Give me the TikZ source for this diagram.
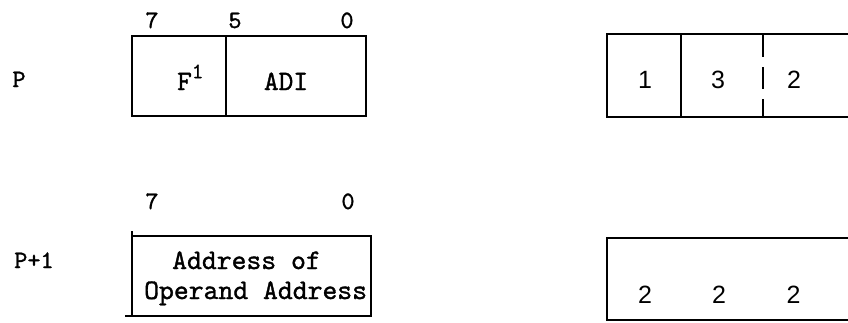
\documentclass[tikz,border=0pt]{standalone}
\usepackage{fontspec}
\newfontfamily\tw{lmmono10-regular}[Extension=.otf, FakeBold=1.2]
\newfontfamily\digitfont{Liberation Sans}
\begin{document}
\begin{tikzpicture}[x=1pt,y=-1pt,
  box/.style={line width=2pt},
  mono/.style={font=\tw\fontsize{25}{30}\selectfont, inner sep=0pt, anchor=base},
  monob/.style={font=\tw\fontsize{28}{30}\selectfont, inner sep=0pt, anchor=base},
  monol/.style={font=\tw\fontsize{28.3}{30}\selectfont, inner sep=0pt, anchor=base west},
  dig/.style={font=\digitfont\fontsize{25}{28}\selectfont, inner sep=0pt, anchor=base}]
\useasboundingbox (0,0) rectangle (848,322);
\clip (0,0) rectangle (848,322);
% left top box
\draw[box] (132,36) rectangle (366,116);
\draw[box] (226,36) -- (226,116);
\node[mono] (l7) at (152,28) {7};
\node[mono] (l5) at (235,28) {5};
\node[mono] (l0) at (347,28) {0};
\node[mono] (p) at (19,87) {P};
\node[monob, anchor=base west] (f1) at (177,90) {F\raisebox{0.42em}{\fontsize{22}{24}\selectfont 1}};
\node[monob] (adi) at (286,90) {ADI};
% left bottom box
\draw[box] (132,236) rectangle (371,316);
\draw[box] (125,316) -- (132,316);
\draw[box] (132,231) -- (132,236);
\node[mono] (m7) at (152,209) {7};
\node[mono] (m0) at (348,209) {0};
\node[mono] (p1) at (34,268) {P+1};
\node[monol] (addr1) at (172,269) {Address of};
\node[monol] (addr2) at (144,299) {Operand Address};
% right top box
\draw[box] (607,34) rectangle (870,117);
\draw[box] (681,34) -- (681,117);
\draw[box, dash pattern=on 22pt off 10pt] (763,35) -- (763,117);
\node[dig] (d1) at (645,88) {1};
\node[dig] (d3) at (718,88) {3};
\node[dig] (d2) at (794,88) {2};
% right bottom box
\draw[box] (607,238) rectangle (870,320);
\node[dig] (e1) at (645,303) {2};
\node[dig] (e2) at (719,303) {2};
\node[dig] (e3) at (793.5,303) {2};
\end{tikzpicture}
\end{document}
